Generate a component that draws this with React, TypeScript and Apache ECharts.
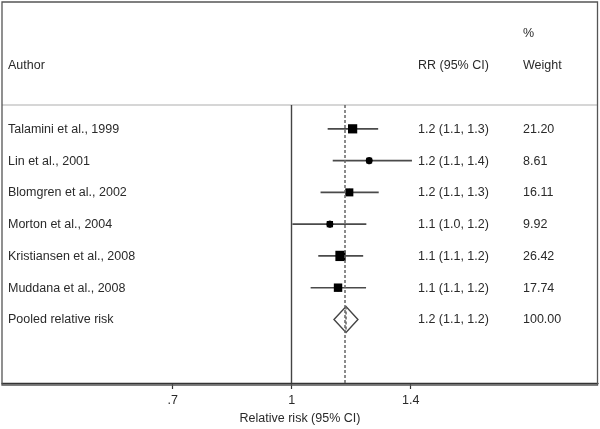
import React, { useEffect, useRef } from "react";
import * as echarts from "echarts";

const authors = [
  "Talamini et al., 1999",
  "Lin et al., 2001",
  "Blomgren et al., 2002",
  "Morton et al., 2004",
  "Kristiansen et al., 2008",
  "Muddana et al., 2008",
];
const rr = [1.188, 1.245, 1.177, 1.114, 1.148, 1.14];
const lo = [1.107, 1.123, 1.085, 1.002, 1.078, 1.055];
const hi = [1.277, 1.405, 1.279, 1.235, 1.224, 1.234];
const weights = [21.2, 8.61, 16.11, 9.92, 26.42, 17.74];
const rrLabels = [
  "1.2 (1.1, 1.3)",
  "1.2 (1.1, 1.4)",
  "1.2 (1.1, 1.3)",
  "1.1 (1.0, 1.2)",
  "1.1 (1.1, 1.2)",
  "1.1 (1.1, 1.2)",
];
const weightLabels = ["21.20", "8.61", "16.11", "9.92", "26.42", "17.74"];
const pooledLabel = "Pooled relative risk";
const pooledRR = 1.166;
const pooledLo = 1.127;
const pooledHi = 1.206;
const pooledRRLabel = "1.2 (1.1, 1.2)";
const pooledWeightLabel = "100.00";
const tickValues = [1 / 1.4, 1, 1.4];
const tickLabels = [".7", "1", "1.4"];

const FONT = "'Liberation Sans', Arial, sans-serif";
const FS = 12.5;
const TXT = "#2a2a2a";

export default function App() {
  const ref = useRef<HTMLDivElement>(null);
  useEffect(() => {
    if (!ref.current) return;
    const chart = echarts.init(ref.current, undefined, { renderer: "svg" });
    const ln = Math.log;
    const nRows = authors.length;
    const rowIdx = authors.map((_, i) => i);
    const tickLn = tickValues.map((v) => ln(v));

    const textRows = [
      ...authors.map((a, i) => [i, a, rrLabels[i], weightLabels[i]]),
      [nRows, pooledLabel, pooledRRLabel, pooledWeightLabel],
    ];

    const option: any = {
      animation: false,
      grid: { left: 2, right: 2, top: 105, bottom: 44 },
      xAxis: {
        type: "value",
        min: -0.8193,
        max: 0.8662,
        axisLine: { show: true, onZero: false, lineStyle: { color: "#333", width: 1.3 } },
        axisTick: {
          show: true,
          customValues: tickLn,
          length: 6,
          lineStyle: { color: "#333", width: 1.2 },
        },
        axisLabel: {
          customValues: tickLn,
          margin: 10,
          fontFamily: FONT,
          fontSize: FS,
          color: TXT,
          formatter: (v: number) => {
            let best = 0;
            tickLn.forEach((t, i) => {
              if (Math.abs(t - v) < Math.abs(tickLn[best] - v)) best = i;
            });
            return tickLabels[best];
          },
        },
        splitLine: { show: false },
        name: "Relative risk (95% CI)",
        nameLocation: "middle",
        nameGap: 28,
        nameTextStyle: { fontFamily: FONT, fontSize: FS, color: TXT },
      },
      yAxis: {
        type: "value",
        inverse: true,
        min: -0.75,
        max: 8,
        show: false,
      },
      graphic: [
        {
          type: "rect",
          shape: { x: 2, y: 2, width: 595.5, height: 383 },
          style: { fill: "none", stroke: "#555", lineWidth: 1.3 },
          silent: true,
          z: 1,
        },
        {
          type: "line",
          shape: { x1: 2, y1: 105, x2: 597, y2: 105 },
          style: { stroke: "#c8c8c8", lineWidth: 1.6 },
          silent: true,
        },
        {
          type: "text",
          x: 8,
          y: 65,
          style: { text: "Author", font: `${FS}px ${FONT}`, fill: TXT, verticalAlign: "middle" },
        },
        {
          type: "text",
          x: 418,
          y: 65,
          style: { text: "RR (95% CI)", font: `${FS}px ${FONT}`, fill: TXT, verticalAlign: "middle" },
        },
        {
          type: "text",
          x: 523,
          y: 33,
          style: { text: "%", font: `${FS}px ${FONT}`, fill: TXT, verticalAlign: "middle" },
        },
        {
          type: "text",
          x: 523,
          y: 65,
          style: { text: "Weight", font: `${FS}px ${FONT}`, fill: TXT, verticalAlign: "middle" },
        },
      ],
      series: [
        {
          type: "custom",
          name: "ci",
          data: rowIdx.map((i) => [ln(lo[i]), ln(hi[i]), i]),
          renderItem: (params: any, api: any) => {
            const a = api.coord([api.value(0), api.value(2)]);
            const b = api.coord([api.value(1), api.value(2)]);
            return {
              type: "line",
              shape: { x1: a[0], y1: a[1], x2: b[0], y2: b[1] },
              style: { stroke: "#4a4a4a", lineWidth: 1.6 },
            };
          },
          markLine: {
            silent: true,
            symbol: "none",
            label: { show: false },
            data: [
              { xAxis: 0, lineStyle: { color: "#444", width: 1.4, type: "solid" } },
              {
                xAxis: ln(pooledRR),
                lineStyle: { color: "#666", width: 1.5, type: [3, 2] },
              },
            ],
          },
          z: 2,
        },
        {
          type: "scatter",
          data: rowIdx.map((i) => ({
            value: [ln(rr[i]), i],
            symbolSize: 2.0 * Math.sqrt(weights[i]),
          })),
          symbol: "rect",
          itemStyle: { color: "#000", opacity: 1 },
          z: 3,
        },
        {
          type: "scatter",
          data: rowIdx.map((i) => [ln(rr[i]), i]),
          symbol: "circle",
          symbolSize: 7,
          itemStyle: { color: "#000", opacity: 1 },
          z: 4,
        },
        {
          type: "custom",
          name: "pooled",
          data: [[ln(pooledLo), ln(pooledRR), ln(pooledHi), nRows]],
          renderItem: (params: any, api: any) => {
            const y = api.value(3);
            const l = api.coord([api.value(0), y]);
            const c = api.coord([api.value(1), y]);
            const r = api.coord([api.value(2), y]);
            const h = 13;
            return {
              type: "polygon",
              shape: {
                points: [
                  [l[0], l[1]],
                  [c[0], c[1] - h],
                  [r[0], r[1]],
                  [c[0], c[1] + h],
                ],
              },
              style: { fill: "#fff", stroke: "#444", lineWidth: 1.4 },
            };
          },
          z: 3,
        },
        {
          type: "custom",
          name: "pooledLine",
          data: [[ln(pooledRR), nRows]],
          renderItem: (params: any, api: any) => {
            const c = api.coord([api.value(0), api.value(1)]);
            return {
              type: "line",
              shape: { x1: c[0], y1: c[1] - 13, x2: c[0], y2: c[1] + 13 },
              style: { stroke: "#666", lineWidth: 1.5, lineDash: [3, 2] },
            };
          },
          z: 4,
        },
        {
          type: "custom",
          name: "texts",
          data: textRows,
          renderItem: (params: any, api: any) => {
            const row = textRows[params.dataIndex];
            const y = api.coord([0, row[0] as number])[1];
            const mk = (x: number, t: string) => ({
              type: "text",
              x,
              y,
              style: {
                text: t,
                font: `${FS}px ${FONT}`,
                fill: TXT,
                verticalAlign: "middle",
                align: "left",
              },
            });
            return {
              type: "group",
              children: [
                mk(8, row[1] as string),
                mk(418, row[2] as string),
                mk(523, row[3] as string),
              ],
            };
          },
          clip: false,
          z: 5,
        },
      ],
    };
    chart.setOption(option);
    return () => chart.dispose();
  }, []);
  return (
    <div
      ref={ref}
      style={{ position: "fixed", left: 0, top: 0, width: 600, height: 429 }}
    />
  );
}
